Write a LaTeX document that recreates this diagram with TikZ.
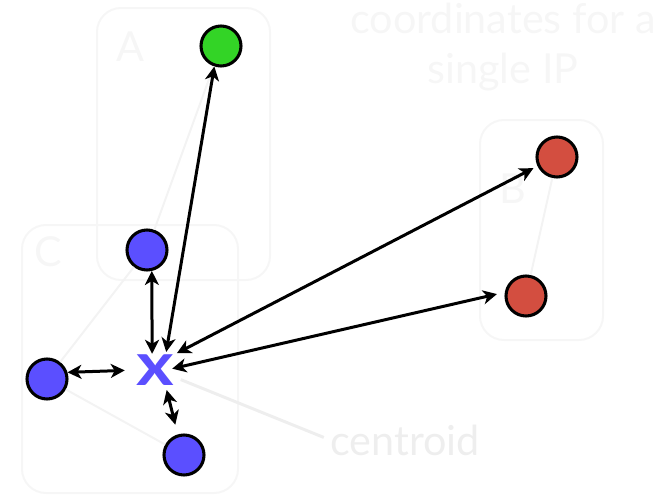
\documentclass[tikz,border=0pt]{standalone}
\usepackage{fontspec}
\setmainfont{Lato}
\usetikzlibrary{arrows.meta}
\definecolor{bluedot}{HTML}{5B4FFF}
\definecolor{reddot}{HTML}{D34E40}
\definecolor{greendot}{HTML}{33D426}
\definecolor{ghost}{HTML}{F6F6F6}
\definecolor{ghostline}{HTML}{F3F3F3}
\definecolor{cengray}{HTML}{EEEEEE}
\begin{document}
\begin{tikzpicture}[x=0.75pt,y=-0.75pt,
  dot/.style={circle,draw=black,line width=2.3pt,minimum size=30pt,inner sep=0pt},
  clusterbox/.style={draw=ghost,line width=1.5pt,rounded corners=18pt},
  clusterlabel/.style={text=ghost,font=\fontsize{31}{31}\selectfont},
  faintline/.style={draw=ghostline,line width=1.5pt},
  bi/.style={line width=2.25pt,{Stealth[length=10.5pt,width=10.5pt,inset=3pt]}-{Stealth[length=10.5pt,width=10.5pt,inset=3pt]}}]
\useasboundingbox (0,0) rectangle (658,496);
% faint cluster boxes
\draw[clusterbox] (97,8) rectangle (270,280);
\draw[clusterbox] (22,225) rectangle (238,493);
\draw[clusterbox] (480,120) rectangle (603,340);
\node[clusterlabel] (la) at (130,47) {A};
\node[clusterlabel] (lc) at (48,252) {C};
\node[clusterlabel] (lb) at (513,189) {B};
% faint title
\node[text=ghost,font=\fontsize{31}{37.5}\selectfont,align=center] (title) at (503,47) {coordinates for a\\single IP};
% dots
\node[dot,fill=greendot] (g) at (221,46) {};
\node[dot,fill=reddot] (rt) at (557,157) {};
\node[dot,fill=reddot] (rb) at (526,296) {};
\node[dot,fill=bluedot] (bt) at (147,250) {};
\node[dot,fill=bluedot] (bl) at (47,379) {};
\node[dot,fill=bluedot] (bb) at (184,455) {};
% centroid
\node[circle,minimum size=30pt,inner sep=0pt] (cx) at (157,370) {};
% faint intra-cluster lines
\draw[faintline] (g) -- (bt);
\draw[faintline] (rt) -- (rb);
\draw[faintline] (bt) -- (bl);
\draw[faintline] (bl) -- (bb);
% centroid label
\node[text=cengray,font=\fontsize{31}{36}\selectfont,anchor=base west,inner sep=0pt] (cen) at (330,455) {centroid};
\draw[cengray,line width=2.25pt,shorten <=5pt,shorten >=4pt] (cen.west) -- (cx);
\node[text=bluedot,font=\fontsize{45}{45}\selectfont\bfseries] (xlab) at (155,370) {\scalebox{1.2}[1]{x}};
% arrows
\draw[bi] (cx.63) -- (g.252);
\draw[bi,shorten <=-2.6pt] (cx.104) -- (bt.283);
\draw[bi,shorten <=4.5pt,shorten >=3.4pt] (cx.44) -- (rt.205.6);
\draw[bi,shorten <=-3.75pt,shorten >=6pt] (cx.7.6) -- (rb.170);
\draw[bi,shorten <=9pt] (cx.180) -- (bl.18);
\draw[bi,shorten <=1.5pt,shorten >=7.5pt] (cx.-63) -- (bb.107);
\end{tikzpicture}
\end{document}
